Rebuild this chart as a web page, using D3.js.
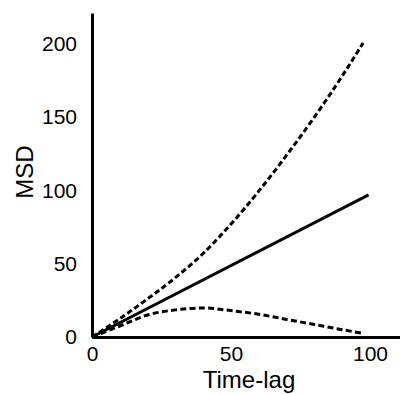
<!DOCTYPE html>
<html>
<head>
<meta charset="utf-8">
<script src="https://cdn.jsdelivr.net/npm/d3@7"></script>
<style>
  body { margin: 0; background: #fff; }
  text { font-family: "Liberation Sans", Arial, sans-serif; fill: #000; }
</style>
</head>
<body>
<div id="chart"></div>
<script>
// time-lag values and MSD curves
var lag_super  = [0, 10, 20, 30, 40, 50, 60, 70, 80, 90, 97.5];
var msd_super  = [0, 12.5, 26, 40.5, 57, 77, 99.5, 124, 150, 178, 200.5];
var lag_normal = [0, 99.5];
var msd_normal = [0, 97];
var lag_sub    = [0, 10, 20, 30, 40, 50, 60, 70, 80, 90, 97.5];
var msd_sub    = [0, 7.5, 15, 18.5, 19.8, 18, 15.5, 12, 8.5, 5, 2.5];

var X_MAX = 110.8;
var Y_MAX = 221;
var X_TICKS = [0, 50, 100];
var Y_TICKS = [0, 50, 100, 150, 200];

var outer_width = 400, outer_height = 394;
var margin = { top: 13, left: 92, bottom: 57, right: 0 };
var width = outer_width - margin.left - margin.right;
var height = outer_height - margin.top - margin.bottom;

var sx = d3.scaleLinear().domain([0, X_MAX]).range([0, width]);
var sy = d3.scaleLinear().domain([0, Y_MAX]).range([height, 0]);

var svg = d3.select('#chart').append('svg')
    .attr('width', outer_width)
    .attr('height', outer_height);

var g = svg.append('g')
    .attr('transform', 'translate(' + margin.left + ', ' + margin.top + ')');

function zip(xs, ys) {
    return xs.map(function(x, i) { return [x, ys[i]]; });
}

var line = d3.line()
    .x(function(d) { return sx(d[0]); })
    .y(function(d) { return sy(d[1]); })
    .curve(d3.curveMonotoneX);

var series = [
    { data: zip(lag_super, msd_super), dash: '5.5,3' },
    { data: zip(lag_normal, msd_normal), dash: null },
    { data: zip(lag_sub, msd_sub), dash: '6,3.3' }
];

series.forEach(function(s) {
    g.append('path')
        .attr('d', line(s.data))
        .attr('fill', 'none')
        .attr('stroke', '#000')
        .attr('stroke-width', 3)
        .attr('stroke-dasharray', s.dash);
});

var ax = d3.axisBottom(sx).tickValues(X_TICKS).tickSize(0).tickPadding(9);
var ay = d3.axisLeft(sy).tickValues(Y_TICKS).tickSize(0).tickPadding(15);

var gx = g.append('g')
    .attr('transform', 'translate(0, ' + height + ')')
    .call(ax);
var gy = g.append('g').call(ay);

[gx, gy].forEach(function(a) {
    a.select('.domain').attr('stroke', '#000').attr('stroke-width', 3);
    a.selectAll('text')
        .style('font-family', '"Liberation Sans", Arial, sans-serif')
        .style('font-size', '21px')
        .attr('fill', '#000');
});

svg.append('text')
    .attr('x', 249)
    .attr('y', 388)
    .attr('text-anchor', 'middle')
    .style('font-size', '24px')
    .text('Time-lag');

svg.append('text')
    .attr('transform', 'translate(33, 172) rotate(-90)')
    .attr('text-anchor', 'middle')
    .style('font-size', '24px')
    .text('MSD');
</script>
</body>
</html>
